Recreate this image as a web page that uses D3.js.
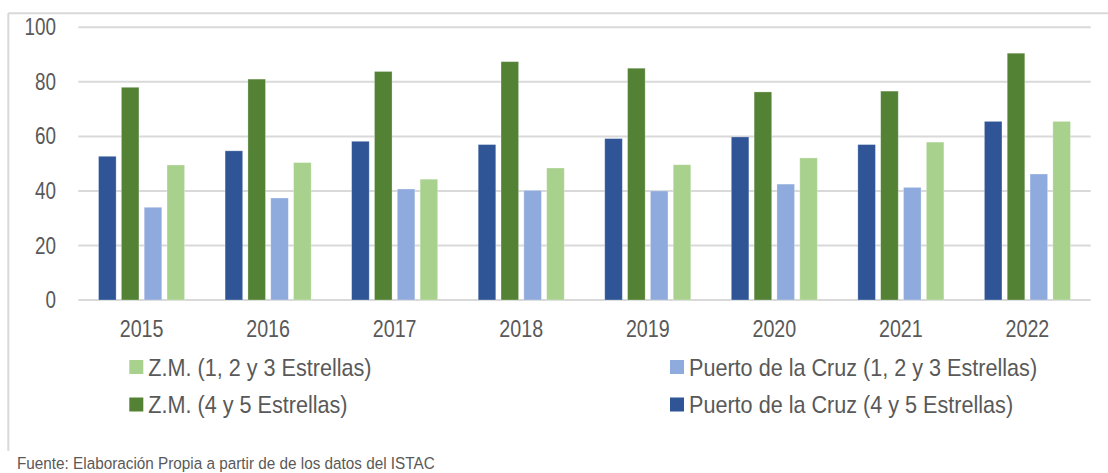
<!DOCTYPE html>
<html>
<head>
<meta charset="utf-8">
<script src="https://cdn.jsdelivr.net/npm/d3@7"></script>
<style>
  html, body { margin: 0; padding: 0; background: #fff; }
  svg { display: block; font-family: "Liberation Sans", Arial, sans-serif; }
</style>
</head>
<body>
<div id="chart"></div>
<script>
const years = ["2015", "2016", "2017", "2018", "2019", "2020", "2021", "2022"];
const seriesNames = [
  "Puerto de la Cruz (4 y 5 Estrellas)",
  "Z.M. (4 y 5 Estrellas)",
  "Puerto de la Cruz (1, 2 y 3 Estrellas)",
  "Z.M. (1, 2 y 3 Estrellas)",
];
const pc45 = [52.7, 54.7, 58.2, 57.0, 59.2, 59.8, 57.0, 65.5];
const zm45 = [78.0, 81.0, 83.8, 87.4, 85.0, 76.3, 76.6, 90.5];
const pc123 = [34.0, 37.4, 40.7, 40.2, 40.0, 42.5, 41.3, 46.2];
const zm123 = [49.5, 50.4, 44.3, 48.4, 49.6, 52.1, 57.9, 65.5];
const yTicks = [0, 20, 40, 60, 80, 100];
const sourceNote = "Fuente: Elaboración Propia a partir de de los datos del ISTAC";

// Excel-ish palette
const COLORS = {
  "Puerto de la Cruz (4 y 5 Estrellas)": "#2f5597",
  "Z.M. (4 y 5 Estrellas)": "#548235",
  "Puerto de la Cruz (1, 2 y 3 Estrellas)": "#8faadc",
  "Z.M. (1, 2 y 3 Estrellas)": "#a9d18e",
};
const valuesBySeries = {
  "Puerto de la Cruz (4 y 5 Estrellas)": pc45,
  "Z.M. (4 y 5 Estrellas)": zm45,
  "Puerto de la Cruz (1, 2 y 3 Estrellas)": pc123,
  "Z.M. (1, 2 y 3 Estrellas)": zm123,
};

const W = 1108, H = 473;
const plot = { left: 78.3, right: 1090.7, top: 27.3, bottom: 300 };
const textColor = "#595959";
const gridColor = "#d9d9d9";
// no Arial Narrow available: squeeze Liberation Sans horizontally instead
const narrowAt = (x, yy, k = 0.82) => `translate(${x},${yy}) scale(${k},1)`;

const svg = d3.select("#chart").append("svg")
  .attr("width", W)
  .attr("height", H);

// chart-area frame (only top and left edges visible in the crop)
svg.append("line").attr("x1", 8.3).attr("x2", W).attr("y1", 13.3).attr("y2", 13.3)
  .attr("stroke", gridColor).attr("stroke-width", 2);
svg.append("line").attr("x1", 8.3).attr("x2", 8.3).attr("y1", 13.3).attr("y2", 451)
  .attr("stroke", gridColor).attr("stroke-width", 2);

const x0 = d3.scaleBand()
  .domain(years)
  .range([plot.left, plot.right])
  .paddingInner(0.32)
  .paddingOuter(0.16);
const x1 = d3.scaleBand()
  .domain(seriesNames)
  .range([0, x0.bandwidth()])
  .paddingInner(0.23);
const y = d3.scaleLinear()
  .domain([0, 100])
  .range([plot.bottom, plot.top]);

// gridlines
svg.append("g")
  .selectAll("line")
  .data(yTicks)
  .join("line")
  .attr("x1", plot.left)
  .attr("x2", plot.right)
  .attr("y1", (d) => y(d))
  .attr("y2", (d) => y(d))
  .attr("stroke", gridColor)
  .attr("stroke-width", 2);

// y labels
svg.append("g")
  .selectAll("text")
  .data(yTicks)
  .join("text")
  .attr("transform", (d) => narrowAt(56, y(d)))
  .attr("dy", "0.35em")
  .attr("text-anchor", "end")
  .attr("fill", textColor)
  .style("font-size", "23px")
  .text((d) => d);

// x labels
svg.append("g")
  .selectAll("text")
  .data(years)
  .join("text")
  .attr("transform", (d) => narrowAt(x0(d) + x0.bandwidth() / 2, 336.5))
  .attr("text-anchor", "middle")
  .attr("fill", textColor)
  .style("font-size", "24px")
  .text((d) => d);

// bars
const groups = svg.append("g")
  .selectAll("g")
  .data(years)
  .join("g")
  .attr("transform", (d) => `translate(${x0(d)},0)`);

groups.selectAll("rect")
  .data((yr, i) => seriesNames.map((s) => ({ s, v: valuesBySeries[s][i] })))
  .join("rect")
  .attr("x", (d) => x1(d.s))
  .attr("y", (d) => y(d.v))
  .attr("width", x1.bandwidth())
  .attr("height", (d) => y(0) - y(d.v))
  .attr("fill", (d) => COLORS[d.s])
  .attr("stroke", "rgba(255,255,255,0.35)")
  .attr("stroke-width", 0.8);

// legend: two columns, two rows
const legendItems = [
  { s: "Z.M. (1, 2 y 3 Estrellas)", x: 129.3, y: 367 },
  { s: "Puerto de la Cruz (1, 2 y 3 Estrellas)", x: 670, y: 367 },
  { s: "Z.M. (4 y 5 Estrellas)", x: 129.3, y: 404.5 },
  { s: "Puerto de la Cruz (4 y 5 Estrellas)", x: 670, y: 404.5 },
];
const leg = svg.append("g")
  .selectAll("g")
  .data(legendItems)
  .join("g")
  .attr("transform", (d) => `translate(${d.x},${d.y})`);
leg.append("rect")
  .attr("x", 0)
  .attr("y", -7)
  .attr("width", 14)
  .attr("height", 14)
  .attr("fill", (d) => COLORS[d.s]);
leg.append("text")
  .attr("transform", narrowAt(19, 0, 0.9))
  .attr("dy", "0.36em")
  .attr("fill", textColor)
  .style("font-size", "24px")
  .text((d) => d.s);

svg.append("text")
  .attr("transform", narrowAt(17, 469, 0.9))
  .attr("fill", textColor)
  .style("font-size", "17px")
  .text(sourceNote);
</script>
</body>
</html>
